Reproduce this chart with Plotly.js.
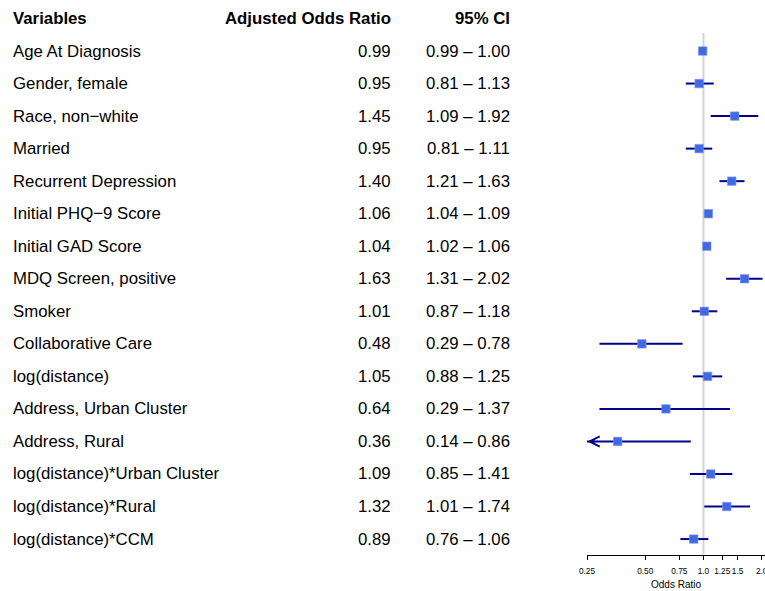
<!DOCTYPE html>
<html>
<head>
<meta charset="utf-8">
<script src="https://cdn.plot.ly/plotly-3.0.1.min.js"></script>
<style>html,body{margin:0;padding:0;background:#fff;}#chart{width:765px;height:591px;}</style>
</head>
<body>
<div id="chart"></div>
<script>
const variables = ["Age At Diagnosis","Gender, female","Race, non\u2212white","Married","Recurrent Depression","Initial PHQ\u22129 Score","Initial GAD Score","MDQ Screen, positive","Smoker","Collaborative Care","log(distance)","Address, Urban Cluster","Address, Rural","log(distance)*Urban Cluster","log(distance)*Rural","log(distance)*CCM"];
const oddsRatio = [0.99,0.95,1.45,0.95,1.40,1.06,1.04,1.63,1.01,0.48,1.05,0.64,0.36,1.09,1.32,0.89];
const ciLow =  [0.99,0.81,1.09,0.81,1.21,1.04,1.02,1.31,0.87,0.29,0.88,0.29,0.14,0.85,1.01,0.76];
const ciHigh = [1.00,1.13,1.92,1.11,1.63,1.09,1.06,2.02,1.18,0.78,1.25,1.37,0.86,1.41,1.74,1.06];
const headers = ["Variables","Adjusted Odds Ratio","95% CI"];
const tickVals = [0.25,0.5,0.75,1.0,1.25,1.5,2.0];
const tickText = ["0.25","0.50","0.75","1.0","1.25","1.5","2.0"];

const FONT = "Liberation Sans, Arial, Helvetica, sans-serif";
const FS = 16.8;
const xMin = 0.25, xMax = 2.08;
const rows = variables.map((_, i) => i);

// CI segments
const segX = [], segY = [];
rows.forEach(i => { segX.push(ciLow[i], ciHigh[i], null); segY.push(i, i, null); });

const traces = [
  {x:[1,1], y:[-0.553, 15.6], mode:'lines', line:{color:'#d4d4d4', width:2}, hoverinfo:'skip', showlegend:false},
  {x:segX, y:segY, mode:'lines', line:{color:'#00008B', width:2}, hoverinfo:'skip', showlegend:false},
  {x:oddsRatio, y:rows, mode:'markers', marker:{symbol:'square', size:8.5, color:'#4169E1', line:{color:'#7f9bef', width:0.6}}, hoverinfo:'skip', showlegend:false}
];

const ann = [];
const colX = [11/765, 393/765, 512/765];
const colAnchor = ['left','right','right'];
headers.forEach((h, k) => ann.push({xref:'paper', yref:'y', x:colX[k], y:-1, text:'<b>'+h+'</b>', showarrow:false, xanchor:colAnchor[k], yanchor:'middle', font:{family:FONT, size:FS, color:'#000'}}));
rows.forEach(i => {
  ann.push({xref:'paper', yref:'y', x:colX[0], y:i, text:variables[i], showarrow:false, xanchor:'left', yanchor:'middle', font:{family:FONT, size:FS, color:'#000'}});
  ann.push({xref:'paper', yref:'y', x:colX[1], y:i, text:oddsRatio[i].toFixed(2), showarrow:false, xanchor:'right', yanchor:'middle', font:{family:FONT, size:FS, color:'#000'}});
  ann.push({xref:'paper', yref:'y', x:colX[2], y:i, text:ciLow[i].toFixed(2)+' \u2013 '+ciHigh[i].toFixed(2), showarrow:false, xanchor:'right', yanchor:'middle', font:{family:FONT, size:FS, color:'#000'}});
  if (ciLow[i] < xMin) {
    ann.push({xref:'x', yref:'y', axref:'x', ayref:'y', x:Math.log10(xMin*1.004), y:i, ax:Math.log10(xMin*1.12), ay:i, text:'', showarrow:true, arrowhead:5, arrowsize:1, arrowwidth:2, arrowcolor:'#00008B'});
  }
});

const layout = {
  width:765, height:591,
  margin:{l:0, r:0, t:0, b:36},
  paper_bgcolor:'#fff', plot_bgcolor:'#fff',
  showlegend:false,
  xaxis:{type:'log', domain:[587/765, 1], range:[Math.log10(xMin), Math.log10(xMax)],
    tickvals:tickVals, ticktext:tickText, tickangle:0, ticks:'outside', ticklen:4, tickwidth:1, tickcolor:'#000',
    ticklabelstandoff:4, ticklabeloverflow:'allow',
    showline:true, linecolor:'#000', linewidth:1, showgrid:false, zeroline:false, automargin:false,
    tickfont:{family:FONT, size:8.3, color:'#000'},
    title:{text:'Odds Ratio', font:{family:FONT, size:10, color:'#000'}, standoff:6}},
  yaxis:{visible:false, range:[15.49, -1.568], showgrid:false, zeroline:false, fixedrange:true},
  annotations:ann,
  font:{family:FONT}
};
Plotly.newPlot('chart', traces, layout, {staticPlot:true, displayModeBar:false});
</script>
</body>
</html>
